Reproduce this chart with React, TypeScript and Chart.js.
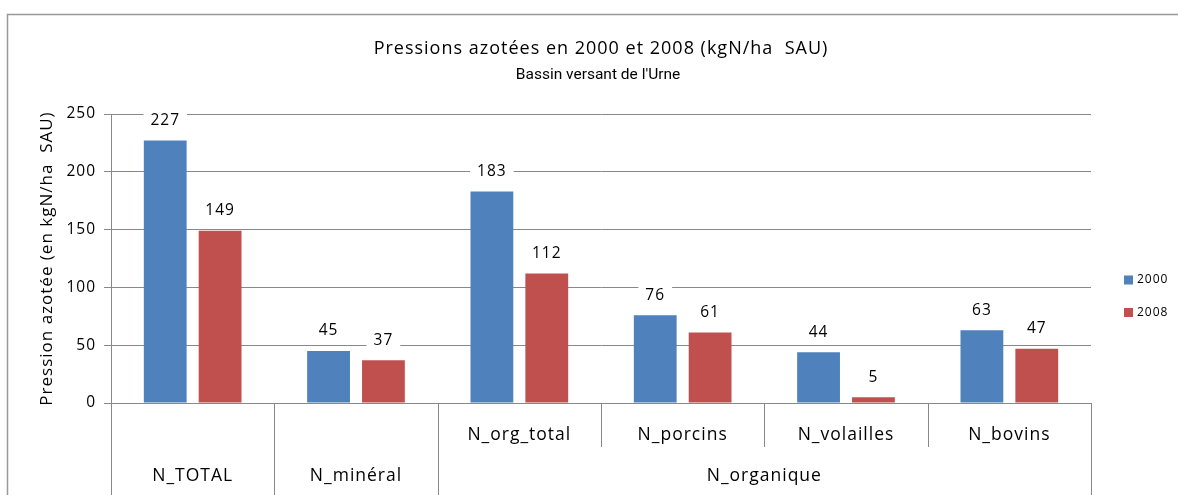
import { useEffect, useRef } from "react";
import { Chart, registerables } from "chart.js";

Chart.register(...registerables);

// ---- data ----
const categories = ["N_TOTAL", "N_minéral", "N_org_total", "N_porcins", "N_volailles", "N_bovins"];
const outerLevel = ["N_TOTAL", "N_minéral", "N_organique", "N_organique", "N_organique", "N_organique"];
const innerLevel = ["", "", "N_org_total", "N_porcins", "N_volailles", "N_bovins"];
const seriesNames = ["2000", "2008"];
const values2000 = [227, 45, 183, 76, 44, 63];
const values2008 = [149, 37, 112, 61, 5, 47];
const yTicks = [0, 50, 100, 150, 200, 250];
const titleLine1 = "Pressions azotées en 2000 et 2008 (kgN/ha  SAU)";
const titleLine2 = "Bassin versant de l'Urne";
const yAxisTitle = "Pression azotée (en kgN/ha  SAU)";

// ---- styles ----
const FONT = "'Open Sans'";
const GRID = "#888888";
const BLUE = "#4F81BD";
const RED = "#C0504D";
const TEXT = "#000000";
const SPACING = "1px";
const NUM_SIZE = 15.5;
const CAT_SIZE = 17.5;

const framePlugin = {
  id: "frame",
  beforeDraw(chart: any) {
    const ctx = chart.ctx;
    ctx.save();
    ctx.fillStyle = "#ffffff";
    ctx.fillRect(0, 0, chart.width, chart.height);
    ctx.strokeStyle = "#999999";
    ctx.lineWidth = 1.5;
    ctx.beginPath();
    ctx.moveTo(7.5, chart.height + 2);
    ctx.lineTo(7.5, 14.5);
    ctx.lineTo(chart.width + 2, 14.5);
    ctx.stroke();
    ctx.restore();
    (ctx as any).letterSpacing = SPACING;
  },
};

const subtitlePlugin = {
  id: "secondTitleLine",
  afterDraw(chart: any) {
    const ctx = chart.ctx;
    const area = chart.chartArea;
    ctx.save();
    (ctx as any).letterSpacing = "0px";
    ctx.font = `15.5px Roboto`;
    ctx.fillStyle = TEXT;
    ctx.textAlign = "center";
    ctx.textBaseline = "middle";
    ctx.fillText(titleLine2, (area.left + area.right) / 2 - 3, 75);
    ctx.restore();
  },
};

const labelsPlugin = {
  id: "valueLabels",
  afterDatasetsDraw(chart: any) {
    const ctx = chart.ctx;
    ctx.save();
    ctx.font = `${NUM_SIZE}px ${FONT}`;
    ctx.textAlign = "center";
    ctx.textBaseline = "middle";
    chart.data.datasets.forEach((ds: any, di: number) => {
      const meta = chart.getDatasetMeta(di);
      meta.data.forEach((bar: any, i: number) => {
        const { x, y } = bar.getProps(["x", "y"], true);
        const txt = String(ds.data[i]);
        const w = ctx.measureText(txt).width + 14;
        const cy = y - 20;
        ctx.fillStyle = "#ffffff";
        ctx.fillRect(x - w / 2, cy - 10, w, 20);
        ctx.fillStyle = TEXT;
        ctx.fillText(txt, x, cy);
      });
    });
    ctx.restore();
  },
};

const axisPlugin = {
  id: "multiLevelAxis",
  afterDraw(chart: any) {
    const ctx = chart.ctx;
    const xs = chart.scales.x;
    const n = categories.length;
    const top = xs.top;
    const boundary = (i: number) => {
      if (i === 0) return xs.left;
      if (i === n) return xs.right;
      return (xs.getPixelForValue(i - 1) + xs.getPixelForValue(i)) / 2;
    };
    ctx.save();
    ctx.strokeStyle = GRID;
    ctx.lineWidth = 1;
    for (let i = 0; i <= n; i++) {
      const full = i === 0 || i === n || outerLevel[i - 1] !== outerLevel[i];
      const bx = Math.round(boundary(i)) + 0.5;
      ctx.beginPath();
      ctx.moveTo(bx, top);
      ctx.lineTo(bx, full ? chart.height : top + 44);
      ctx.stroke();
    }
    // outer-level labels
    ctx.font = `${CAT_SIZE}px ${FONT}`;
    ctx.fillStyle = TEXT;
    ctx.textAlign = "center";
    ctx.textBaseline = "middle";
    let start = 0;
    for (let i = 1; i <= n; i++) {
      if (i === n || outerLevel[i] !== outerLevel[start]) {
        const cx = (boundary(start) + boundary(i)) / 2;
        ctx.fillText(outerLevel[start], cx, top + 73);
        start = i;
      }
    }
    ctx.restore();
  },
};

const legendPlugin = {
  id: "sideLegend",
  afterDraw(chart: any) {
    const ctx = chart.ctx;
    const area = chart.chartArea;
    ctx.save();
    ctx.font = `12px ${FONT}`;
    ctx.textAlign = "left";
    ctx.textBaseline = "middle";
    chart.data.datasets.forEach((ds: any, i: number) => {
      const cy = area.top + 166 + i * 32.5;
      const x0 = area.right + 33;
      ctx.fillStyle = ds.backgroundColor;
      ctx.fillRect(x0, cy - 4.5, 9, 9);
      ctx.fillStyle = TEXT;
      ctx.fillText(ds.label, x0 + 13, cy);
    });
    ctx.restore();
  },
};

export default function App() {
  const ref = useRef<HTMLCanvasElement | null>(null);
  useEffect(() => {
    document.body.style.margin = "0";
    document.body.style.overflow = "hidden";
    const canvas = ref.current;
    if (!canvas) return;
    const numFont = { family: FONT, size: NUM_SIZE, weight: "normal" as const };
    const catFont = { family: FONT, size: CAT_SIZE, weight: "normal" as const };
    const chart = new Chart(canvas, {
      type: "bar",
      data: {
        labels: categories,
        datasets: [
          { label: seriesNames[0], data: values2000, backgroundColor: BLUE, borderWidth: 0 },
          { label: seriesNames[1], data: values2008, backgroundColor: RED, borderWidth: 0 },
        ],
      },
      options: {
        responsive: false,
        animation: false,
        devicePixelRatio: 1,
        layout: { padding: { top: 14, left: 0, right: 87, bottom: 0 } },
        datasets: { bar: { categoryPercentage: 0.672, barPercentage: 0.78 } },
        plugins: {
          legend: { display: false },
          tooltip: { enabled: false },
          title: {
            display: true,
            fullSize: false,
            text: titleLine1,
            color: TEXT,
            font: { family: FONT, size: 18, weight: "normal", lineHeight: "26px" },
            padding: { top: 22, bottom: 52 },
          },
        },
        scales: {
          x: {
            grid: { display: false },
            border: { display: true, color: GRID, width: 1 },
            ticks: {
              autoSkip: false,
              maxRotation: 0,
              minRotation: 0,
              padding: 14,
              color: TEXT,
              font: catFont,
              callback: (_v: any, i: number) => innerLevel[i],
            },
            afterFit: (s: any) => {
              s.height = 92;
            },
          },
          y: {
            min: 0,
            max: 250,
            afterBuildTicks: (s: any) => {
              s.ticks = yTicks.map((v) => ({ value: v }));
            },
            ticks: { padding: 8, color: TEXT, font: numFont },
            grid: { color: GRID, drawTicks: true, tickLength: 7, lineWidth: 1 },
            border: { display: true, color: GRID, width: 1 },
            title: {
              display: true,
              text: yAxisTitle,
              color: TEXT,
              font: { family: FONT, size: 17, weight: "normal" },
              padding: { top: 37, bottom: 0 },
            },
            afterFit: (s: any) => {
              s.width = 111;
            },
          },
        },
      },
      plugins: [framePlugin, labelsPlugin, axisPlugin, legendPlugin, subtitlePlugin],
    });
    if ((document as any).fonts?.load) {
      Promise.all([
        (document as any).fonts.load(`16px ${FONT}`),
        (document as any).fonts.load(`16px Roboto`),
      ])
        .then(() => chart.update())
        .catch(() => {});
    }
    return () => chart.destroy();
  }, []);
  return (
    <div style={{ width: 1178, height: 495 }}>
      <canvas ref={ref} width={1178} height={495} style={{ display: "block" }} />
    </div>
  );
}
